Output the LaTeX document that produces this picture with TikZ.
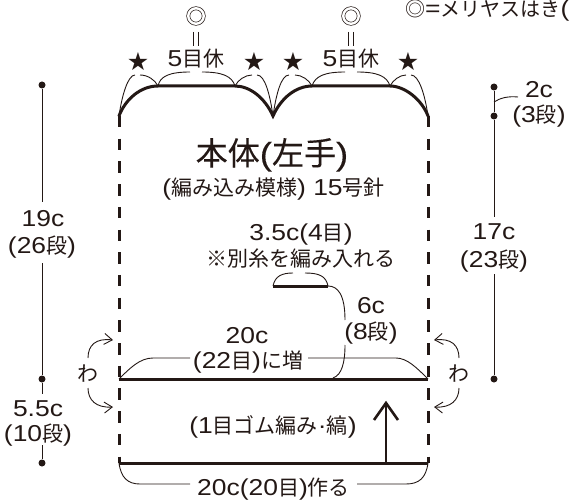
\documentclass[tikz,border=0pt]{standalone}
\usepackage{fontspec}
\usetikzlibrary{arrows.meta}
\setmainfont{Noto Sans CJK JP}
\newfontfamily\symfont{DejaVu Sans}
\newfontfamily\latf[FakeStretch=1.15]{Liberation Sans}
\newfontfamily\titlef[FakeBold=0.2]{Noto Sans CJK JP}
\newfontfamily\titlelat[FakeStretch=1.15,FakeBold=0.2]{Liberation Sans}
\newcommand{\lat}[1]{{\latf\fontsize{23}{23}\selectfont #1}}
\newcommand{\tlat}[1]{{\titlelat\fontsize{32}{32}\selectfont #1}}
\definecolor{ink}{HTML}{231815}
\tikzset{
  x=1pt,y=-1pt,
  lbl/.style={inner sep=0pt,text=ink,text height=18pt,text depth=2pt,font=\fontsize{21}{21}\selectfont},
  lblnote/.style={inner sep=0pt,text=ink,text height=15pt,text depth=0pt,font=\fontsize{20}{20}\selectfont},
  lblbig/.style={inner sep=0pt,text=ink,text height=28pt,text depth=4pt,font=\titlef\fontsize{32}{32}\selectfont},
  heavy/.style={draw=ink,line width=3pt},
  thin/.style={draw=ink,line width=0.9pt},
  dim/.style={draw=ink,line width=1pt},
  dashedge/.style={draw=ink,line width=3pt,dash pattern=on 11.5pt off 11.2pt},
  dotn/.style={circle,fill=ink,inner sep=0pt,minimum size=7pt},
  startxt/.style={inner sep=0pt,text=ink,font=\symfont\fontsize{25}{25}\selectfont},
  ringn/.style={circle,draw=ink,line width=0.7pt,minimum size=15.5pt,inner sep=0pt,double,double distance=2.4pt},
  opena/.style={draw=ink,line width=0.9pt,->,>={Straight Barb[length=8pt,width=11pt]}},
}
\begin{document}
\begin{tikzpicture}
\useasboundingbox (0,0) rectangle (573,500);
% key points
\coordinate (LT) at (119,116);
\coordinate (S1) at (158,86);
\coordinate (S2) at (235,86);
\coordinate (V) at (273,116);
\coordinate (S3) at (312,86);
\coordinate (S4) at (390,86);
\coordinate (RT) at (428,116);
\coordinate (LM) at (119,379);
\coordinate (RM) at (428,379);
\coordinate (LB) at (119,463);
\coordinate (RB) at (428,463);
\coordinate (AB) at (386,463);
\coordinate (AT) at (386,403);
\coordinate (H1) at (273,286);
\coordinate (H2) at (328,286);
% outline
\draw[heavy,line cap=round] (LT) .. controls (125,100) and (140,86) .. (S1) -- (S2) .. controls (250,86) and (265,98) .. (V)
  .. controls (281,98) and (296,86) .. (S3) -- (S4) .. controls (405,86) and (422,100) .. (RT);
\draw[dashedge] (LT) -- (LB);
\draw[dashedge] (RT) -- (RB);
\draw[heavy] (LM) -- (RM);
\draw[heavy] (LB) -- (RB);
\draw[heavy] (H1) -- (H2);
\draw[draw=ink,line width=2.6pt] (AB) -- (AT);
\draw[draw=ink,line width=2.6pt,line join=miter] (374,420) -- (AT) -- (398,420);
% top labels
\node[ringn] (r1) at (196,16) {};
\node[ringn] (r2) at (351,16) {};
\draw[thin] (193.2,32) -- (193.2,46.5) (198.8,32) -- (198.8,46.5);
\draw[thin] (348.2,32) -- (348.2,46.5) (353.8,32) -- (353.8,46.5);
\node[lbl] (k1) at (196,59) {\lat{5}目休};
\node[lbl] (k2) at (351,59) {\lat{5}目休};
\node[startxt] (s1) at (138,62) {★};
\node[startxt] (s2) at (254,62) {★};
\node[startxt] (s3) at (293,62) {★};
\node[startxt] (s4) at (408,62) {★};
% brackets
\draw[thin] (S1) .. controls (160,76) and (170,72) .. (190,72);
\draw[thin] (S2) .. controls (232,76) and (222,72) .. (202,72);
\draw[thin] (S3) .. controls (315,76) and (325,72) .. (345,72);
\draw[thin] (S4) .. controls (387,76) and (377,72) .. (357,72);
\draw[thin] (LT) .. controls (122,95) and (128,75) .. (135,75);
\draw[thin] (S1) .. controls (155,80) and (148,75) .. (140,75);
\draw[thin] (S2) .. controls (238,80) and (245,75) .. (252,75);
\draw[thin] (V) .. controls (270,95) and (265,75) .. (257,75);
\draw[thin] (V) .. controls (276,95) and (281,75) .. (289,75);
\draw[thin] (S3) .. controls (309,80) and (302,75) .. (295,75);
\draw[thin] (S4) .. controls (393,80) and (400,75) .. (406,75);
\draw[thin] (RT) .. controls (425,95) and (419,75) .. (411,75);
% note
\node[lblnote,anchor=west] (note) at (405,9) {◎\lat{=}メリヤスはき\lat{(}};
% centre
\node[lblbig] (title) at (272,153) {本体\tlat{(}左手\tlat{)}};
\node[lbl] (sub) at (273.5,187) {\lat{(}編み込み模様\lat{) 15}号針};
\node[lbl] (hw) at (301,232) {\lat{3.5c(4}目\lat{)}};
\node[lbl] (hn) at (301,258) {※別糸を編み入れる};
\draw[thin] (H1) .. controls (275,276) and (282,273) .. (293,273);
\draw[thin] (H2) .. controls (326,276) and (319,273) .. (305,273);
\node[lbl] (six) at (371,305) {\lat{6c}};
\node[lbl] (eight) at (371,331) {\lat{(8}段\lat{)}};
\draw[thin] (H2) .. controls (338,286) and (345,295) .. (345,320);
\draw[thin] (345,345) .. controls (345,362) and (342,375) .. (333,378);
\node[lbl] (w20) at (247,335) {\lat{20c}};
\node[lbl] (w22) at (248,360) {\lat{(22}目\lat{)}に増};
\draw[thin] (LM) .. controls (130,368) and (140,358) .. (153,358) -- (190,358);
\draw[thin] (RM) .. controls (417,368) and (407,358) .. (396,358) -- (308,358);
\node[lbl] (rib) at (273,425) {\lat{(1}目ゴム編み\lat{·}縞\lat{)}};
\node[lbl] (cast) at (273.5,487) {\lat{20c(20}目\lat{)}作る};
\draw[thin] (LB) .. controls (121,478) and (128,484) .. (140,484) -- (190,484);
\draw[thin] (RB) .. controls (426,478) and (419,484) .. (406,484) -- (357,484);
% wa
\node[lbl] (waL) at (88,373) {わ};
\node[lbl] (waR) at (459,373) {わ};
\draw[opena] (88,358) .. controls (88,345) and (96,338) .. (113,340);
\draw[opena] (88,388) .. controls (88,400) and (96,408) .. (113,407);
\draw[opena] (459,358) .. controls (459,345) and (451,338) .. (434,340);
\draw[opena] (459,388) .. controls (459,400) and (451,408) .. (434,407);
% left dims
\node[dotn] (d1) at (42,85) {};
\node[dotn] (d2) at (42,379) {};
\node[dotn] (d3) at (42,463) {};
\node[lbl] (a19) at (43,218) {\lat{19c}};
\node[lbl] (a26) at (42,245) {\lat{(26}段\lat{)}};
\node[lbl] (a55) at (38,408) {\lat{5.5c}};
\node[lbl] (a10) at (38,433) {\lat{(10}段\lat{)}};
\coordinate (a1) at (42,202); \coordinate (a2) at (42,263);
\coordinate (a3) at (42,394); \coordinate (a4) at (42,445);
\draw[dim] (d1) -- (a1);
\draw[dim] (a2) -- (d2);
\draw[dim] (d2) -- (a3);
\draw[dim] (a4) -- (d3);
% right dims
\node[dotn] (d4) at (494,87) {};
\node[dotn] (d5) at (494,116) {};
\node[dotn] (d6) at (494,379) {};
\node[lbl] (b2) at (539,90) {\lat{2c}};
\node[lbl] (b3) at (539,115) {\lat{(3}段\lat{)}};
\node[lbl] (b17) at (494,231) {\lat{17c}};
\node[lbl] (b23) at (494,259) {\lat{(23}段\lat{)}};
\coordinate (b1) at (494,217); \coordinate (b4) at (494,274);
\coordinate (b5) at (494,102); \coordinate (b6) at (518,97);
\draw[dim] (d4) -- (d5);
\draw[dim] (d5) -- (b1);
\draw[dim] (b4) -- (d6);
\draw[thin] (b5) .. controls (500,98) and (508,96) .. (b6);
\end{tikzpicture}
\end{document}
